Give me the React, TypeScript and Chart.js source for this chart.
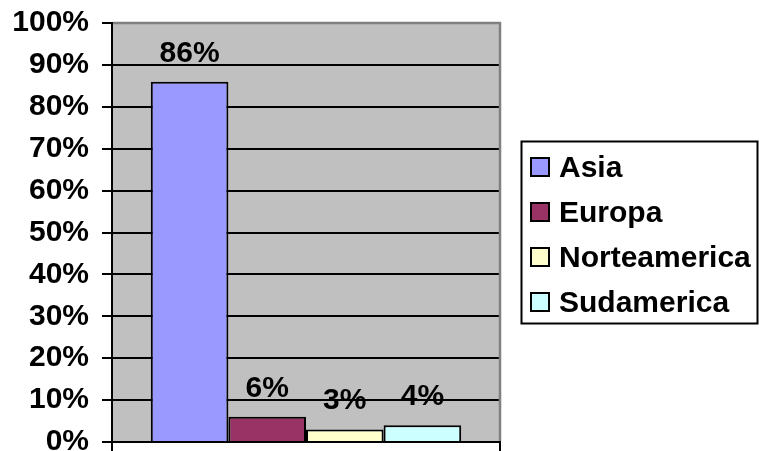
import React, { useEffect, useRef } from "react";
import { Chart, registerables } from "chart.js";

Chart.register(...registerables);

const categories: string[] = [""];
const seriesNames: string[] = ["Asia", "Europa", "Norteamerica", "Sudamerica"];
const seriesValues: number[] = [86, 6, 3, 4];
const seriesColors: string[] = ["#9999FF", "#993366", "#FFFFCC", "#CCFFFF"];
const yTicks: number[] = [0, 10, 20, 30, 40, 50, 60, 70, 80, 90, 100];

const FONT = '"Liberation Sans", Arial, sans-serif';

const plotBg = {
  id: "plotBg",
  beforeDraw(chart: any) {
    const { ctx, chartArea } = chart;
    ctx.save();
    ctx.fillStyle = "#C0C0C0";
    ctx.fillRect(chartArea.left, chartArea.top, chartArea.right - chartArea.left, chartArea.bottom - chartArea.top);
    ctx.restore();
  },
  afterDraw(chart: any) {
    const { ctx, chartArea } = chart;
    ctx.save();
    ctx.strokeStyle = "#808080";
    ctx.lineWidth = 2.5;
    ctx.beginPath();
    ctx.moveTo(chartArea.left + 1, chartArea.top);
    ctx.lineTo(chartArea.right, chartArea.top);
    ctx.lineTo(chartArea.right, chartArea.bottom - 1);
    ctx.stroke();
    ctx.restore();
  },
};

const dataLabels = {
  id: "dataLabels",
  afterDatasetsDraw(chart: any) {
    const { ctx } = chart;
    ctx.save();
    ctx.font = `bold 30px ${FONT}`;
    ctx.fillStyle = "#000";
    ctx.textAlign = "center";
    ctx.textBaseline = "alphabetic";
    chart.data.datasets.forEach((ds: any, i: number) => {
      const meta = chart.getDatasetMeta(i);
      meta.data.forEach((bar: any, j: number) => {
        ctx.fillText(`${ds.data[j]}%`, bar.x, bar.y - 20);
      });
    });
    ctx.restore();
  },
};

const customLegend = {
  id: "customLegend",
  afterDraw(chart: any) {
    const { ctx } = chart;
    const left = 521.5, top = 141.5, w = 236, h = 182;
    ctx.save();
    ctx.strokeStyle = "#000";
    ctx.lineWidth = 2;
    ctx.strokeRect(left, top, w, h);
    ctx.font = `bold 30px ${FONT}`;
    ctx.textAlign = "left";
    ctx.textBaseline = "alphabetic";
    chart.data.datasets.forEach((ds: any, i: number) => {
      const cy = 167 + i * 45;
      ctx.fillStyle = ds.backgroundColor;
      ctx.fillRect(531, cy - 9, 18, 18);
      ctx.lineWidth = 2;
      ctx.strokeStyle = "#000";
      ctx.strokeRect(531, cy - 9, 18, 18);
      ctx.fillStyle = "#000";
      ctx.fillText(ds.label, 559, cy + 10);
    });
    ctx.restore();
  },
};

export default function App() {
  const ref = useRef<HTMLCanvasElement>(null);
  useEffect(() => {
    document.body.style.margin = "0";
    const canvas = ref.current;
    if (!canvas) return;
    const chart = new Chart(canvas, {
      type: "bar",
      data: {
        labels: categories,
        datasets: seriesNames.map((name, i) => ({
          label: name,
          data: [seriesValues[i]],
          backgroundColor: seriesColors[i],
          borderColor: "#000",
          borderWidth: 2,
          categoryPercentage: 0.8,
          barPercentage: 1.0,
        })),
      },
      options: {
        animation: false,
        responsive: false,
        maintainAspectRatio: false,
        layout: { padding: { left: 0, top: 23, right: 259, bottom: 0 } },
        plugins: { legend: { display: false }, tooltip: { enabled: false } },
        scales: {
          x: {
            grid: {
              offset: true,
              drawOnChartArea: false,
              drawTicks: true,
              tickLength: 9,
              color: "#000",
              lineWidth: 2,
            },
            border: { display: true, color: "#000", width: 2 },
            ticks: { display: false },
            afterFit: (scale: any) => {
              scale.height = 9;
              scale.paddingLeft = 0;
              scale.paddingRight = 0;
              scale.paddingTop = 0;
              scale.paddingBottom = 0;
            },
          },
          y: {
            min: 0,
            max: 100,
            afterBuildTicks: (scale: any) => {
              scale.ticks = yTicks.map((v) => ({ value: v }));
            },
            ticks: {
              callback: (v: any) => `${v}%`,
              font: { family: FONT, size: 30, weight: "bold" },
              color: "#000",
              padding: 13,
            },
            grid: {
              color: (c: any) => (c.tick && c.tick.value === 100 ? "#808080" : "#000"),
              tickColor: "#000",
              lineWidth: 2,
              tickLength: 10,
            },
            border: { display: true, color: "#000", width: 2 },
            afterFit: (scale: any) => {
              scale.width = 112;
              scale.paddingTop = 0;
              scale.paddingBottom = 0;
              scale.paddingLeft = 0;
              scale.paddingRight = 0;
            },
          },
        },
      },
      plugins: [plotBg, dataLabels, customLegend],
    });
    return () => chart.destroy();
  }, []);
  return <canvas ref={ref} width={759} height={451} style={{ display: "block" }} />;
}
